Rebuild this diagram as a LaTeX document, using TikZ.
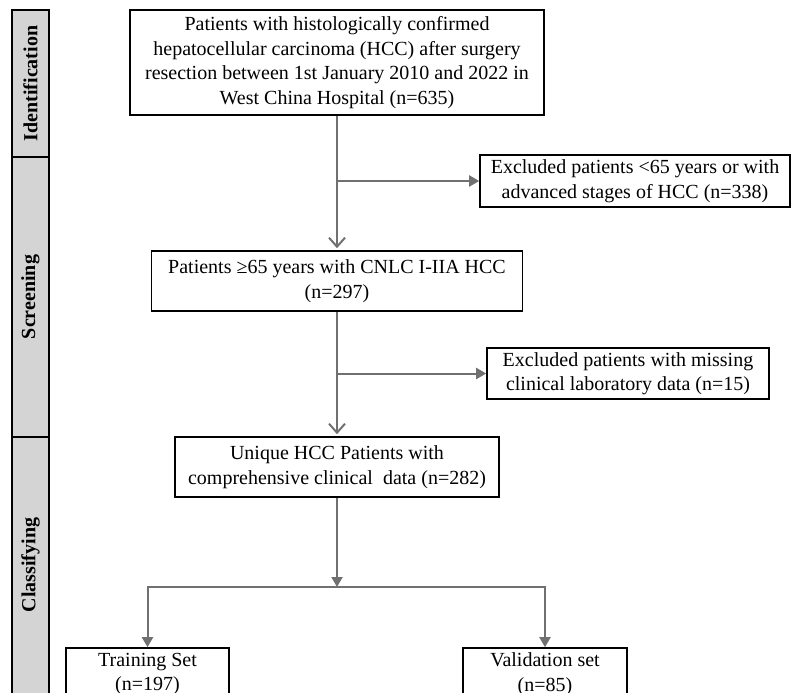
\documentclass[tikz,border=0pt]{standalone}
\usepackage{fontspec}
\setmainfont{Liberation Serif}
\usetikzlibrary{arrows.meta,positioning}

\definecolor{linegray}{RGB}{112,112,112}
\definecolor{bargray}{RGB}{212,212,212}

\tikzset{
    box/.style={draw=black, line width=1.6pt, align=center, inner sep=2pt, text=black},
    flow/.style={draw=linegray, line width=2pt, shorten >=2pt,
        -{Straight Barb[length=9pt,width=16pt]}},
    branch/.style={draw=linegray, line width=2pt, -{Triangle[length=10pt,width=11pt]}},
    stage/.style={draw=black, line width=1.5pt, fill=bargray},
}

\begin{document}
\begin{tikzpicture}[x=1pt, y=-1pt, font=\fontsize{20}{24.5}\selectfont]

    \useasboundingbox (0,0) rectangle (792,693);
    \clip (0,0) rectangle (792,693);

    % Stage bars on the left
    \draw[stage] (12,10) rectangle (49,157);
    \draw[stage] (12,157) rectangle (49,437);
    \draw[stage] (12,437) rectangle (49,700);
    \foreach \lab/\y in {Identification/83.5, Screening/297, Classifying/565} {
        \node[rotate=90, font=\fontsize{20}{24}\selectfont\bfseries] (stage-\lab) at (30.5,\y) {\lab};
    }

    % Main boxes
    \node[box, minimum width=414pt, minimum height=105pt] (hcc) at (337,62.5)
        {Patients with histologically confirmed\\hepatocellular carcinoma (HCC) after surgery\\resection between 1st January 2010 and 2022 in\\West China Hospital (n=635)};
    \node[box, minimum width=371pt, minimum height=60pt] (elder) at (337,281)
        {Patients ≥65 years with CNLC I-IIA HCC\\(n=297)};
    \node[box, minimum width=324pt, minimum height=60pt] (unique) at (337,467)
        {Unique HCC Patients with\\comprehensive clinical~ data (n=282)};

    % Exclusion boxes
    \node[box, minimum width=310pt, minimum height=52pt] (excl1) at (635,181)
        {Excluded patients <65 years or with\\advanced stages of HCC (n=338)};
    \node[box, minimum width=282pt, minimum height=51pt] (excl2) at (628,373.5)
        {Excluded patients with missing\\clinical laboratory data (n=15)};

    % Split sets
    \node[box, minimum width=163pt, minimum height=52pt] (train) at (147.5,674)
        {Training Set\\(n=197)};
    \node[box, minimum width=164pt, minimum height=52pt] (valid) at (545,674)
        {Validation set\\(n=85)};

    % Connectors
    \draw[flow] (hcc.south) -- (elder.north);
    \draw[branch] (hcc.south |- excl1.west) -- (excl1.west);
    \draw[flow] (elder.south) -- (unique.north);
    \draw[branch] (elder.south |- excl2.west) -- (excl2.west);

    \coordinate (split) at (337,587);
    \draw[branch] (unique.south) -- (split);
    \draw[branch] (split) -| (train.north);
    \draw[branch] (split) -| (valid.north);

\end{tikzpicture}
\end{document}
